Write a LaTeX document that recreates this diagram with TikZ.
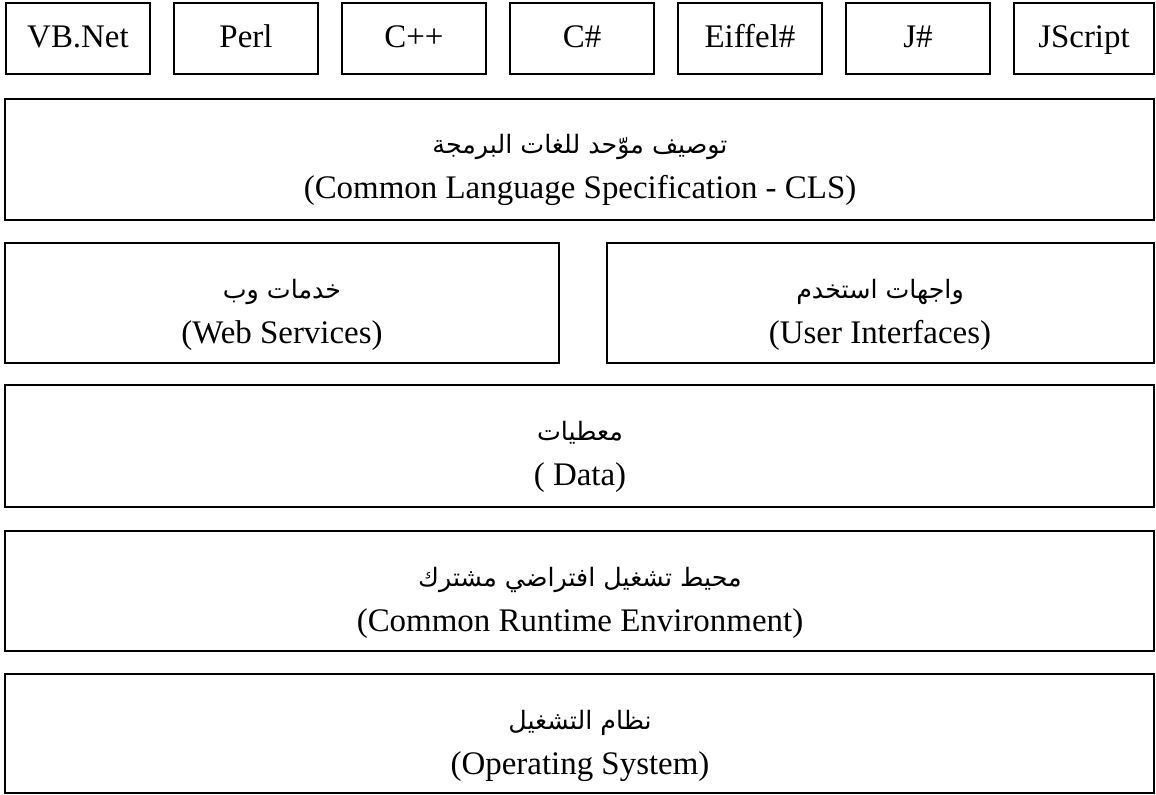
\documentclass[tikz,border=0pt]{standalone}
\usepackage{fontspec}
\setmainfont{Liberation Serif}
\newfontfamily\arabicfont[Script=Arabic]{DejaVu Sans}
\TeXXeTstate=1
\begin{document}
\begin{tikzpicture}[x=0.75pt,y=-0.75pt,
  box/.style={draw=black, line width=1.3pt, anchor=north west, inner sep=0pt, outer sep=0pt},
  langbox/.style={box, minimum width=144*0.75pt, minimum height=71*0.75pt},
  widebox/.style={box, minimum width=1149*0.75pt, minimum height=#1*0.75pt},
  halfbox/.style={box, minimum width=#1*0.75pt, minimum height=120*0.75pt},
  en/.style={anchor=base, inner sep=0pt, font=\fontsize{24.7}{29}\selectfont},
  ar/.style={anchor=base, inner sep=0pt, font=\arabicfont\fontsize{19}{24}\selectfont}]
\useasboundingbox (0,0) rectangle (1156,795);

% language row
\node[langbox] (vb) at (6,3) {};
\node[langbox] (perl) at (174,3) {};
\node[langbox] (cpp) at (342,3) {};
\node[langbox] (cs) at (510,3) {};
\node[langbox] (eif) at (678,3) {};
\node[langbox] (js) at (846,3) {};
\node[langbox, minimum width=140*0.75pt] (jscr) at (1014,3) {};
\node[en] (vbt) at (78,48) {VB.Net};
\node[en] (perlt) at (246,48) {Perl};
\node[en] (cppt) at (414,48) {C++};
\node[en] (cst) at (582,48) {C\#};
\node[en] (eift) at (750,48) {Eiffel\#};
\node[en] (jst) at (918,48) {J\#};
\node[en] (jscrt) at (1084,48) {JScript};

% common language specification
\node[widebox=121] (cls) at (5,99) {};
\node[ar] (clsa) at (580,154) {\beginR توصيف موّحد للغات البرمجة\endR};
\node[en] (clse) at (580,199) {(Common Language Specification - CLS)};

% web services / user interfaces
\node[halfbox=554] (ws) at (5,243) {};
\node[ar] (wsa) at (282,298) {\beginR خدمات وب\endR};
\node[en] (wse) at (282,343) {(Web Services)};
\node[halfbox=547] (ui) at (607,243) {};
\node[ar] (uia) at (880,298) {\beginR واجهات استخدم\endR};
\node[en] (uie) at (880,343) {(User Interfaces)};

% data
\node[widebox=122] (data) at (5,385) {};
\node[ar] (dataa) at (580,440) {\beginR معطيات\endR};
\node[en] (datae) at (580,485) {( Data)};

% common runtime environment
\node[widebox=120] (cre) at (5,531) {};
\node[ar] (crea) at (580,586) {\beginR محيط تشغيل افتراضي مشترك\endR};
\node[en] (cree) at (580,631) {(Common Runtime Environment)};

% operating system
\node[widebox=119] (os) at (5,674) {};
\node[ar] (osa) at (580,729) {\beginR نظام التشغيل\endR};
\node[en] (ose) at (580,774) {(Operating System)};
\end{tikzpicture}
\end{document}
